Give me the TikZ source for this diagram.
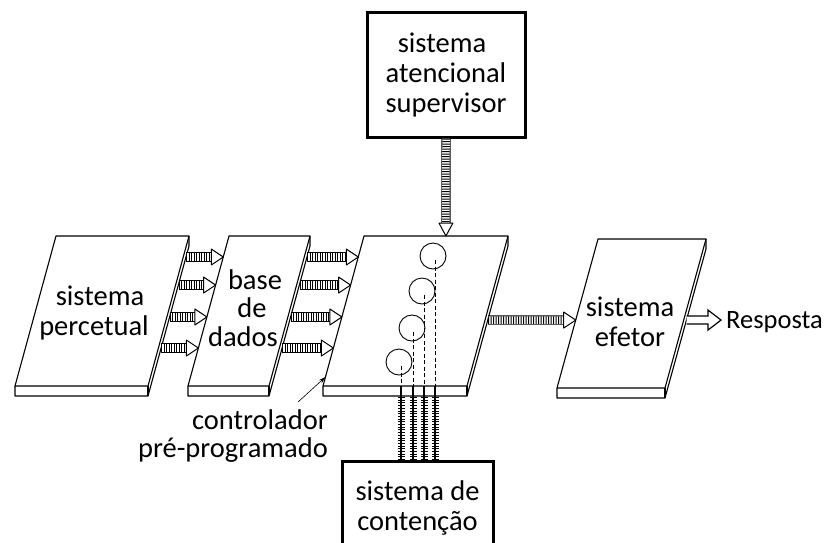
\documentclass[tikz,border=0pt]{standalone}
\usepackage{fontspec}
\setmainfont{Carlito}
\usetikzlibrary{calc,arrows.meta}
\tikzset{
  panel/.style={line width=1.1pt, line join=round},
  txt/.style={font=\fontsize{28.5}{30}\selectfont, align=center, inner sep=0pt},
  bigbox/.style={draw, line width=3pt, inner sep=0pt},
  shaftedge/.style={double=white, double distance=7.5pt, line width=0.9pt},
  shafthatch/.style={line width=7.5pt, dash pattern=on 1pt off 1.5pt},
  headstyle/.style={fill=white, line width=1pt, line join=round},
  fishbone/.style={line width=7pt, dash pattern=on 1pt off 1.7pt},
  spine/.style={line width=1.1pt},
  dashline/.style={line width=0.9pt, dash pattern=on 4pt off 2.5pt},
  ring/.style={draw, circle, minimum size=26pt, inner sep=0pt, line width=0.9pt},
  openarrow/.style={line width=1.2pt, fill=white, line join=miter},
  leader/.style={line width=0.6pt, -{Stealth[length=7pt,width=4pt]}}
}
% #1 name, #2 bottom-left x, #3 width, #4 top y, #5 bottom y
\newcommand\panelslab[5]{%
  \coordinate (#1bl) at (#2,#5);
  \coordinate (#1br) at (#2+#3,#5);
  \coordinate (#1tl) at (#2+41,#4);
  \coordinate (#1tr) at (#2+#3+41,#4);
  \draw[panel, fill=white] (#1bl) -- (#1tl) -- (#1tr) -- (#1br) -- cycle;
  \draw[panel] (#1bl) -- ++(0,10) -- ($(#1br)+(0,10)$) -- ($(#1tr)+(0,10)$) -- (#1tr);
  \draw[panel] ($(#1br)+(0,10)$) -- (#1br);
}
% horizontal hatched arrow from #1 to tip #2
\newcommand\hatcharrow[2]{%
  \draw[shaftedge] (#1) -- ($(#2)+(-12,0)$);
  \draw[shafthatch] (#1) -- ($(#2)+(-12,0)$);
  \draw[headstyle] ($(#2)+(-12,-8)$) -- (#2) -- ($(#2)+(-12,8)$) -- cycle;
}
\begin{document}
\begin{tikzpicture}[x=1pt, y=-1pt]
\useasboundingbox (0,0) rectangle (829,542);
\clip (0,0) rectangle (829,542);

% panels
\panelslab{P1}{15}{133}{236}{386}
\panelslab{P2}{188}{81}{236}{386}
\panelslab{P3}{323}{144}{236}{386}
\panelslab{P4}{557}{108}{239}{388}

\node[txt] (percetual) at (97,313) {\hspace*{6pt}sistema\\percetual\hspace*{6pt}};
\node[txt, font=\fontsize{28.5}{28.5}\selectfont] (dados) at (249,308) {\hspace*{12pt}base\\\hspace*{6pt}de\\dados\hspace*{12pt}};
\node[txt] (efetor) at (630,322) {sistema\\efetor};

% hatched arrows P1 -> P2 and P2 -> P3
\foreach \t [count=\i] in {0.86,0.673,0.46,0.253}{
  \coordinate (a\i s) at ($(P1br)!\t!(P1tr)+(3,0)$);
  \coordinate (a\i e) at ($(P2bl)!\t!(P2tl)$);
  \hatcharrow{a\i s}{a\i e}
  \coordinate (b\i s) at ($(P2br)!\t!(P2tr)+(3,0)$);
  \coordinate (b\i e) at ($(P3bl)!\t!(P3tl)$);
  \hatcharrow{b\i s}{b\i e}
}
% P3 -> P4
\coordinate (c s) at ($(P3br)!0.44!(P3tr)+(3,0)$);
\coordinate (c e) at ($(P4bl)!0.456!(P4tl)$);
\hatcharrow{c s}{c e}

% supervisory box and arrow
\node[bigbox, minimum width=158pt, minimum height=125pt, txt] (sas) at (446,74.5)
  {sistema\hspace*{8pt}\\atencional\\supervisor};
\coordinate (sastip) at ($(P3tl)!0.569!(P3tr)$);
\draw[shaftedge] (sas.south) -- ($(sastip)+(0,-13)$);
\draw[shafthatch] (sas.south) -- ($(sastip)+(0,-13)$);
\draw[headstyle] ($(sastip)+(-7,-13)$) -- (sastip) -- ($(sastip)+(7,-13)$) -- cycle;

% contention box
\node[bigbox, minimum width=151pt, minimum height=92pt, txt, anchor=north] (cont) at (417.5,460)
  {sistema de\\contenção};

% circles and dashed lines
\node[ring] (r1) at (433,256) {};
\node[ring] (r2) at (422,291) {};
\node[ring] (r3) at (412,328) {};
\node[ring] (r4) at (399,362) {};
\foreach \i/\dx in {1/2,2/2,3/1,4/2}{
  \coordinate (d\i) at ($(r\i |- P3bl)+(\dx,0)$);
  \coordinate (f\i) at ($(d\i |- cont.north)$);
  \draw[dashline] ($(r\i.center)+(\dx,4)$) -- (d\i);
  \draw[spine] (d\i) -- (f\i);
  \draw[fishbone] ($(d\i)+(0,11)$) -- (f\i);
}

% response
\coordinate (rs) at ($(P4br)!0.456!(P4tr)+(3,0)$);
\node[txt, anchor=base west, font=\fontsize{26.5}{30}\selectfont] (resp) at (726,328) {Resposta};
\coordinate (rt) at ($(rs -| resp.west)+(-5,0)$);
\draw[openarrow] (rs) ++(0,-4) -- ($(rt)+(-13,-4)$) -- ($(rt)+(-13,-10)$) -- (rt)
  -- ($(rt)+(-13,10)$) -- ($(rt)+(-13,4)$) -- ($(rs)+(0,4)$);

% controller label
\node[txt, align=right, anchor=east, font=\fontsize{28.5}{27.5}\selectfont] (ctrl) at (328,436)
  {controlador\\pré-programado};
\coordinate (lead) at (298,402);
\draw[leader] (lead) -- ($(P3bl)!0.06!(P3tl)$);
\end{tikzpicture}
\end{document}
